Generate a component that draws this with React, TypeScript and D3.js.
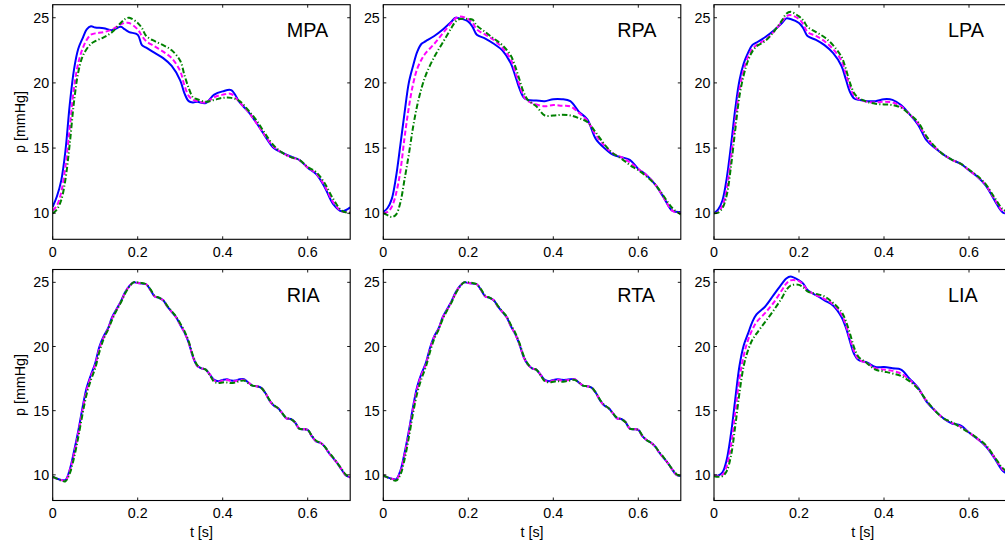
import React from "react";
import * as d3 from "d3";

// ---------- data ----------
const T_TOP = [0, 0.01, 0.02, 0.03, 0.04, 0.05, 0.06, 0.07, 0.08, 0.09, 0.10, 0.12, 0.14, 0.16, 0.17, 0.18, 0.20, 0.21, 0.22, 0.24, 0.26, 0.28, 0.30, 0.31, 0.32, 0.33, 0.34, 0.36, 0.38, 0.40, 0.42, 0.44, 0.46, 0.48, 0.50, 0.52, 0.54, 0.56, 0.58, 0.60, 0.62, 0.64, 0.66, 0.68, 0.70];
const T_FINE = d3.range(0, 71).map((i) => i / 100);

const MPA_BLUE = [10.5, 11.3, 12.5, 14.8, 18.3, 21.0, 22.6, 23.4, 24.1, 24.35, 24.25, 24.2, 24.05, 24.3, 24.1, 23.9, 23.7, 22.9, 22.7, 22.3, 21.9, 21.3, 20.2, 19.2, 18.6, 18.5, 18.55, 18.45, 19.1, 19.35, 19.45, 18.5, 17.8, 16.9, 15.9, 15.0, 14.65, 14.35, 14.1, 13.5, 13.0, 12.0, 10.7, 10.15, 10.45];
const MPA_MAGENTA = [10.2, 10.6, 11.6, 13.6, 16.5, 19.6, 21.5, 22.6, 23.3, 23.7, 23.8, 23.9, 24.1, 24.5, 24.6, 24.6, 24.1, 23.6, 23.2, 22.8, 22.4, 21.9, 20.9, 19.8, 19.0, 18.7, 18.6, 18.5, 18.9, 19.1, 19.15, 18.5, 17.8, 16.9, 15.95, 15.1, 14.65, 14.3, 14.1, 13.5, 13.05, 12.1, 10.85, 10.15, 10.1];
const MPA_GREEN = [10.0, 10.3, 11.0, 12.6, 15.3, 18.5, 20.8, 22.0, 22.6, 23.0, 23.2, 23.5, 23.9, 24.6, 24.9, 25.0, 24.6, 24.2, 23.6, 23.2, 22.9, 22.5, 21.7, 20.6, 19.6, 18.9, 18.75, 18.55, 18.7, 18.85, 18.85, 18.6, 17.9, 17.1, 16.1, 15.2, 14.65, 14.3, 14.1, 13.55, 13.15, 12.3, 11.1, 10.2, 10.0];

const RPA_BLUE = [10.1, 10.4, 11.1, 12.8, 15.2, 17.7, 20.0, 21.3, 22.4, 23.0, 23.2, 23.6, 24.1, 24.7, 25.0, 24.95, 24.7, 24.3, 23.7, 23.4, 23.0, 22.5, 21.5, 20.6, 19.6, 18.9, 18.7, 18.65, 18.6, 18.75, 18.75, 18.6, 17.8, 17.2, 15.7, 15.0, 14.5, 14.3, 14.1, 13.4, 12.9, 12.2, 11.2, 10.2, 10.1];
const RPA_MAGENTA = [10.0, 10.1, 10.5, 11.5, 13.2, 15.8, 18.1, 19.9, 21.1, 21.8, 22.3, 23.0, 23.8, 24.6, 24.95, 25.1, 24.9, 24.6, 24.1, 23.7, 23.3, 22.7, 21.8, 20.9, 19.9, 19.0, 18.6, 18.35, 18.2, 18.3, 18.25, 18.2, 17.7, 17.1, 16.0, 15.2, 14.6, 14.3, 13.9, 13.4, 12.9, 12.2, 11.2, 10.2, 10.0];
const RPA_GREEN = [10.0, 9.85, 9.7, 9.9, 10.8, 12.6, 14.5, 16.6, 18.3, 19.6, 20.6, 22.0, 23.1, 24.2, 24.7, 24.9, 24.9, 24.85, 24.4, 23.9, 23.4, 22.9, 22.1, 21.3, 20.3, 19.3, 18.7, 18.2, 17.5, 17.5, 17.55, 17.5, 17.3, 17.0, 16.2, 15.3, 14.6, 14.2, 13.7, 13.3, 12.8, 12.2, 11.3, 10.4, 9.9];

const LPA_BLUE = [10.0, 10.3, 11.0, 12.7, 15.2, 18.0, 20.2, 21.5, 22.3, 22.9, 23.1, 23.5, 24.0, 24.6, 24.95, 24.9, 24.6, 24.2, 23.6, 23.3, 22.9, 22.3, 21.3, 20.3, 19.3, 18.8, 18.7, 18.6, 18.6, 18.75, 18.7, 18.3, 17.6, 16.8, 15.6, 15.0, 14.5, 14.1, 13.8, 13.3, 12.8, 12.1, 11.0, 10.05, 10.0];
const LPA_MAGENTA = [10.0, 10.1, 10.6, 11.9, 14.3, 17.1, 19.5, 21.0, 22.0, 22.6, 22.9, 23.3, 23.9, 24.7, 25.1, 25.2, 24.9, 24.5, 23.9, 23.6, 23.2, 22.6, 21.7, 20.7, 19.7, 19.0, 18.75, 18.55, 18.5, 18.55, 18.5, 18.2, 17.6, 16.9, 15.8, 15.05, 14.5, 14.1, 13.8, 13.3, 12.8, 12.15, 11.1, 10.15, 10.0];
const LPA_GREEN = [10.0, 10.05, 10.4, 11.4, 13.6, 16.4, 19.0, 20.6, 21.7, 22.4, 22.8, 23.2, 23.9, 24.8, 25.3, 25.45, 25.1, 24.8, 24.3, 23.9, 23.5, 22.9, 22.0, 21.1, 20.0, 19.2, 18.85, 18.55, 18.4, 18.35, 18.3, 18.1, 17.6, 17.0, 15.9, 15.1, 14.5, 14.1, 13.8, 13.35, 12.85, 12.2, 11.2, 10.3, 10.0];

const RIA_BLUE = [9.85, 9.7, 9.6, 9.6, 10.4, 11.8, 13.4, 15.2, 16.8, 17.8, 18.7, 20.0, 20.8, 21.4, 22.3, 22.9, 23.5, 24.2, 24.7, 25.0, 24.95, 24.9, 24.85, 24.4, 23.9, 23.8, 23.6, 23.1, 22.7, 22.3, 21.7, 21.1, 20.3, 19.2, 18.5, 18.3, 18.2, 17.8, 17.4, 17.3, 17.4, 17.45, 17.35, 17.35, 17.45, 17.45, 17.2, 16.95, 16.9, 16.8, 16.4, 15.8, 15.4, 15.2, 14.8, 14.4, 14.35, 14.1, 13.6, 13.55, 13.5, 13.0, 12.6, 12.5, 12.2, 11.7, 11.3, 10.9, 10.4, 9.95, 9.8];
const RIA_MAGENTA = [9.85, 9.7, 9.6, 9.55, 10.3, 11.6, 13.2, 15.0, 16.6, 17.65, 18.55, 19.85, 20.7, 21.35, 22.2, 22.85, 23.45, 24.15, 24.7, 25.0, 24.95, 24.9, 24.85, 24.4, 23.9, 23.8, 23.6, 23.1, 22.7, 22.3, 21.7, 21.1, 20.3, 19.2, 18.5, 18.3, 18.2, 17.8, 17.35, 17.25, 17.35, 17.4, 17.3, 17.3, 17.4, 17.4, 17.2, 16.95, 16.9, 16.8, 16.4, 15.8, 15.4, 15.2, 14.8, 14.4, 14.35, 14.1, 13.6, 13.55, 13.5, 13.0, 12.6, 12.5, 12.2, 11.7, 11.3, 10.9, 10.4, 9.95, 9.8];
const RIA_GREEN = [9.85, 9.7, 9.55, 9.5, 10.1, 11.3, 12.9, 14.7, 16.3, 17.4, 18.3, 19.6, 20.6, 21.3, 22.1, 22.8, 23.4, 24.1, 24.65, 25.0, 25.0, 24.95, 24.85, 24.45, 23.95, 23.8, 23.6, 23.15, 22.75, 22.35, 21.8, 21.2, 20.4, 19.3, 18.55, 18.3, 18.2, 17.75, 17.25, 17.15, 17.2, 17.2, 17.15, 17.2, 17.3, 17.35, 17.15, 16.95, 16.9, 16.8, 16.4, 15.85, 15.45, 15.2, 14.8, 14.45, 14.35, 14.1, 13.6, 13.55, 13.5, 13.05, 12.65, 12.5, 12.2, 11.75, 11.35, 10.9, 10.45, 10.0, 9.8];

const RTA_BLUE = [9.95, 9.8, 9.7, 9.65, 10.3, 11.7, 13.4, 15.3, 16.9, 17.9, 18.7, 19.9, 20.8, 21.4, 22.3, 22.9, 23.5, 24.2, 24.7, 25.0, 24.95, 24.9, 24.85, 24.4, 23.9, 23.8, 23.6, 23.1, 22.7, 22.3, 21.6, 21.0, 20.2, 19.2, 18.6, 18.3, 18.2, 17.8, 17.4, 17.3, 17.4, 17.45, 17.4, 17.4, 17.45, 17.45, 17.2, 16.95, 16.9, 16.8, 16.4, 15.8, 15.4, 15.2, 14.8, 14.4, 14.35, 14.1, 13.6, 13.55, 13.5, 13.0, 12.7, 12.5, 12.2, 11.7, 11.3, 10.9, 10.4, 10.0, 9.9];
const RTA_MAGENTA = [9.95, 9.8, 9.7, 9.6, 10.2, 11.55, 13.25, 15.1, 16.75, 17.8, 18.6, 19.8, 20.75, 21.35, 22.25, 22.85, 23.45, 24.15, 24.7, 25.0, 24.95, 24.9, 24.85, 24.4, 23.9, 23.8, 23.6, 23.1, 22.7, 22.3, 21.6, 21.0, 20.2, 19.2, 18.6, 18.3, 18.2, 17.8, 17.35, 17.25, 17.35, 17.4, 17.35, 17.35, 17.4, 17.45, 17.2, 16.95, 16.9, 16.8, 16.4, 15.8, 15.4, 15.2, 14.8, 14.4, 14.35, 14.1, 13.6, 13.55, 13.5, 13.0, 12.7, 12.5, 12.2, 11.7, 11.3, 10.9, 10.4, 10.0, 9.9];
const RTA_GREEN = [9.95, 9.8, 9.65, 9.55, 10.0, 11.2, 12.9, 14.8, 16.4, 17.5, 18.4, 19.6, 20.6, 21.3, 22.15, 22.8, 23.4, 24.1, 24.65, 25.0, 25.0, 24.95, 24.85, 24.45, 23.95, 23.8, 23.6, 23.15, 22.75, 22.35, 21.7, 21.1, 20.3, 19.3, 18.65, 18.3, 18.2, 17.75, 17.3, 17.2, 17.25, 17.3, 17.25, 17.3, 17.35, 17.4, 17.2, 16.95, 16.9, 16.8, 16.4, 15.85, 15.45, 15.2, 14.8, 14.45, 14.35, 14.1, 13.6, 13.55, 13.5, 13.05, 12.7, 12.5, 12.2, 11.75, 11.35, 10.9, 10.45, 10.05, 9.9];

const LIA_BLUE = [9.95, 9.95, 10.2, 11.2, 13.2, 15.9, 18.5, 20.1, 21.0, 21.9, 22.5, 23.1, 24.0, 24.9, 25.3, 25.45, 25.15, 24.9, 24.4, 24.0, 23.6, 23.2, 22.3, 21.5, 20.4, 19.4, 18.95, 18.75, 18.4, 18.4, 18.3, 18.2, 17.5, 16.8, 15.7, 15.0, 14.4, 14.0, 13.85, 13.3, 12.8, 12.2, 11.3, 10.3, 9.9];
const LIA_MAGENTA = [9.95, 9.9, 10.0, 10.7, 12.3, 14.9, 17.5, 19.3, 20.5, 21.3, 21.9, 22.6, 23.4, 24.4, 24.9, 25.15, 25.1, 24.8, 24.4, 24.0, 23.7, 23.3, 22.5, 21.7, 20.6, 19.6, 19.0, 18.7, 18.3, 18.2, 18.1, 17.9, 17.4, 16.75, 15.75, 15.0, 14.4, 14.05, 13.75, 13.3, 12.8, 12.25, 11.35, 10.4, 9.95];
const LIA_GREEN = [9.9, 9.85, 9.9, 10.3, 11.5, 13.8, 16.4, 18.5, 19.7, 20.5, 21.0, 21.9, 22.8, 23.8, 24.4, 24.75, 24.8, 24.6, 24.3, 24.1, 23.9, 23.4, 22.7, 22.0, 21.0, 19.9, 19.2, 18.7, 18.2, 18.05, 17.9, 17.7, 17.3, 16.7, 15.8, 15.0, 14.4, 14.1, 13.7, 13.3, 12.85, 12.3, 11.4, 10.5, 10.0];

const X_TICKS = [0, 0.2, 0.4, 0.6];
const X_TICK_LABELS = ["0", "0.2", "0.4", "0.6"];
const Y_TICKS = [10, 15, 20, 25];
const Y_TICK_LABELS = ["10", "15", "20", "25"];
const X_DOMAIN = [0, 0.7];
const Y_DOMAIN = [8, 26];

const PANELS = [
  { name: "MPA", row: 0, col: 0, t: T_TOP, s: [MPA_BLUE, MPA_MAGENTA, MPA_GREEN] },
  { name: "RPA", row: 0, col: 1, t: T_TOP, s: [RPA_BLUE, RPA_MAGENTA, RPA_GREEN] },
  { name: "LPA", row: 0, col: 2, t: T_TOP, s: [LPA_BLUE, LPA_MAGENTA, LPA_GREEN] },
  { name: "RIA", row: 1, col: 0, t: T_FINE, s: [RIA_BLUE, RIA_MAGENTA, RIA_GREEN] },
  { name: "RTA", row: 1, col: 1, t: T_FINE, s: [RTA_BLUE, RTA_MAGENTA, RTA_GREEN] },
  { name: "LIA", row: 1, col: 2, t: T_TOP, s: [LIA_BLUE, LIA_MAGENTA, LIA_GREEN] },
];

// ---------- layout / style ----------
const COL_X = [52.7, 383.3, 714];
const PW = 297.5;
const ROW_Y = [4.7, 269.5];
const PH = [234.6, 231];
const FONT = "'Liberation Sans', Arial, Helvetica, sans-serif";
const TICK_FS = 14.3;
const STYLES = [
  { color: "#0000ff", dash: undefined },
  { color: "#ff00ff", dash: "5,2.6" },
  { color: "#008000", dash: "5.5,2.2,1.2,2.2" },
];

function Panel({ p }: { p: typeof PANELS[number] }) {
  const x0 = COL_X[p.col];
  const y0 = ROW_Y[p.row];
  const h = PH[p.row];
  const x = d3.scaleLinear().domain(X_DOMAIN).range([x0, x0 + PW]);
  const y = d3.scaleLinear().domain(Y_DOMAIN).range([y0 + h, y0]);
  const line = d3
    .line<number>()
    .x((_, i) => x(p.t[i]))
    .y((v) => y(v))
    .curve(d3.curveCatmullRom.alpha(0.5));
  const clipId = `clip-${p.name}`;
  const tl = 3;
  return (
    <g>
      <defs>
        <clipPath id={clipId}>
          <rect x={x0} y={y0} width={PW} height={h} />
        </clipPath>
      </defs>
      <rect x={x0} y={y0} width={PW} height={h} fill="#fff" />
      <g clipPath={`url(#${clipId})`}>
        {p.s.map((vals, k) => (
          <path
            key={k}
            d={line(vals) || ""}
            fill="none"
            stroke={STYLES[k].color}
            strokeWidth={2}
            strokeDasharray={STYLES[k].dash}
            strokeLinejoin="round"
          />
        ))}
      </g>
      {X_TICKS.map((v) => (
        <g key={`xt${v}`} stroke="#000" strokeWidth={0.9}>
          <line x1={x(v)} x2={x(v)} y1={y0 + h} y2={y0 + h - tl} />
          <line x1={x(v)} x2={x(v)} y1={y0} y2={y0 + tl} />
        </g>
      ))}
      {Y_TICKS.map((v) => (
        <g key={`yt${v}`} stroke="#000" strokeWidth={0.9}>
          <line x1={x0} x2={x0 + tl} y1={y(v)} y2={y(v)} />
          <line x1={x0 + PW} x2={x0 + PW - tl} y1={y(v)} y2={y(v)} />
        </g>
      ))}
      <rect x={x0} y={y0} width={PW} height={h} fill="none" stroke="#000" strokeWidth={1.1} />
      {X_TICKS.map((v, i) => (
        <text
          key={`xl${v}`}
          x={x(v)}
          y={y0 + h + 17.6}
          textAnchor="middle"
          fontFamily={FONT}
          fontSize={TICK_FS}
          fill="#000"
        >
          {X_TICK_LABELS[i]}
        </text>
      ))}
      {Y_TICKS.map((v, i) => (
        <text
          key={`yl${v}`}
          x={x0 - 3.5}
          y={y(v) + 5.1}
          textAnchor="end"
          fontFamily={FONT}
          fontSize={TICK_FS}
          fill="#000"
        >
          {Y_TICK_LABELS[i]}
        </text>
      ))}
      <text x={x0 + 234} y={y0 + 32} fontFamily={FONT} fontSize={19.8} fill="#000">
        {p.name}
      </text>
      {p.col === 0 && (
        <text
          transform={`translate(${x0 - 28},${y0 + h / 2}) rotate(-90)`}
          textAnchor="middle"
          fontFamily={FONT}
          fontSize={TICK_FS}
          fill="#000"
        >
          p [mmHg]
        </text>
      )}
      {p.row === 1 && (
        <text
          x={x0 + PW / 2}
          y={y0 + h + 36.5}
          textAnchor="middle"
          fontFamily={FONT}
          fontSize={TICK_FS}
          fill="#000"
        >
          t [s]
        </text>
      )}
    </g>
  );
}

export default function App() {
  return (
    <svg
      width={1005}
      height={543}
      viewBox="0 0 1005 543"
      style={{ position: "absolute", left: 0, top: 0, background: "#fff" }}
    >
      <rect x={0} y={0} width={1005} height={543} fill="#fff" />
      {PANELS.map((p) => (
        <Panel key={p.name} p={p} />
      ))}
    </svg>
  );
}
